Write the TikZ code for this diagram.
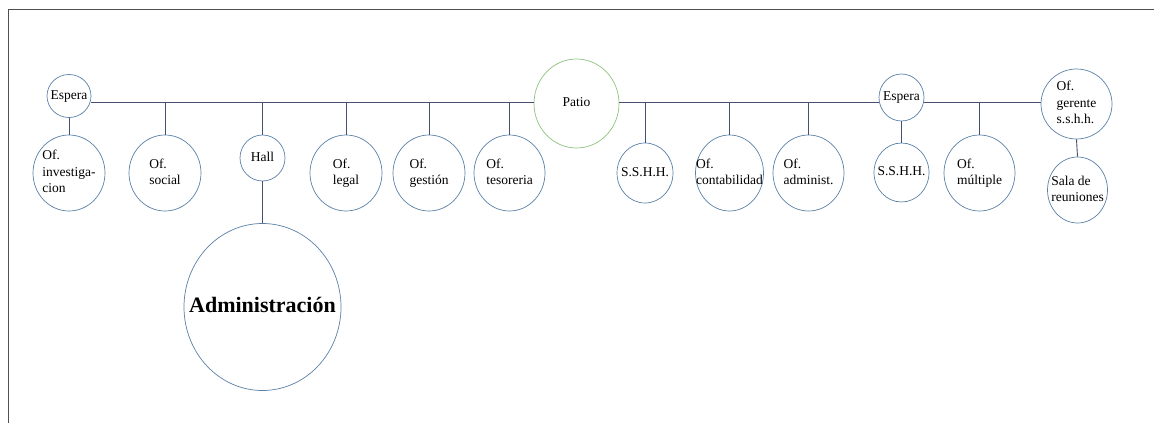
\documentclass[tikz,border=0pt]{standalone}
\usepackage{fontspec}
\setmainfont{Liberation Serif}
\usetikzlibrary{shapes.geometric}
\definecolor{roomblue}{HTML}{5A80A6}
\definecolor{linkgray}{HTML}{46506E}
\definecolor{patiogreen}{HTML}{8DC27C}
\definecolor{framegray}{HTML}{505050}
\newcommand{\roomtext}[1]{\makebox[0pt]{\begin{tabular}{@{}l@{}}#1\end{tabular}}}
\begin{document}
\begin{tikzpicture}[x=1pt,y=-1pt,
  room/.style={ellipse,draw=roomblue,line width=0.7pt,inner sep=0pt,
    font=\fontsize{13.5}{16.5}\selectfont},
  link/.style={draw=linkgray,line width=0.9pt}]
\useasboundingbox (0,0) rectangle (1154,423);
\draw[framegray,line width=1pt] (8,423) -- (8,9) -- (1154,9);

\coordinate (spine) at (0,102);

\node[room,minimum width=44pt,minimum height=43pt] (esp1) at (69,96) {\roomtext{Espera}};
\node[room,minimum width=72pt,minimum height=76pt] (inv) at (69,173) {\roomtext{Of.\\investiga-\\cion}};
\node[room,minimum width=72pt,minimum height=76pt] (soc) at (165,173) {\roomtext{Of.\\social}};
\node[room,minimum width=45pt,minimum height=46pt] (hall) at (262.5,158) {\roomtext{Hall}};
\node[room,minimum width=157pt,minimum height=167pt,font=\fontsize{22}{26}\selectfont\bfseries] (adm) at (262.5,307) {\roomtext{Administración}};
\node[room,minimum width=72pt,minimum height=76pt] (leg) at (346,173) {\roomtext{Of.\\legal}};
\node[room,minimum width=72pt,minimum height=76pt] (ges) at (429,173) {\roomtext{Of.\\gestión}};
\node[room,minimum width=71pt,minimum height=76pt] (tes) at (509.5,173) {\roomtext{Of.\\tesoreria}};

\node[room,draw=patiogreen,minimum width=85pt,minimum height=89pt] (patio) at (576.5,103.5) {\roomtext{Patio}};

\node[room,minimum width=56pt,minimum height=60pt] (ssh1) at (645,173) {\roomtext{S.S.H.H.}};
\node[room,minimum width=68pt,minimum height=76pt] (cont) at (729.5,173) {\roomtext{Of.\\contabilidad}};
\node[room,minimum width=71pt,minimum height=76pt] (adms) at (808.5,173) {\roomtext{Of.\\administ.}};

\node[room,minimum width=45pt,minimum height=47pt] (esp2) at (901.5,97.5) {\roomtext{Espera}};
\node[room,minimum width=55pt,minimum height=59pt] (ssh2) at (901.5,172.5) {\roomtext{S.S.H.H.}};
\node[room,minimum width=71pt,minimum height=76pt] (mult) at (979.5,173) {\roomtext{Of.\\múltiple}};

\node[room,minimum width=71pt,minimum height=68pt] (ger) at (1076.5,104) {\roomtext{Of.\\gerente\\s.s.h.h.}};
\node[room,minimum width=60pt,minimum height=66pt] (sala) at (1077.5,190) {\roomtext{Sala de\\reuniones}};

\draw[link] (esp1.east |- spine) -- (patio.west |- spine);
\draw[link] (patio.east |- spine) -- (esp2.west |- spine);
\draw[link] (esp2.east |- spine) -- (ger.west |- spine);

\draw[link] (esp1.south) -- (inv.north);
\draw[link] (soc.north) -- (soc.north |- spine);
\draw[link] (hall.north) -- (hall.north |- spine);
\draw[link] (hall.south) -- (adm.north);
\draw[link] (leg.north) -- (leg.north |- spine);
\draw[link] (ges.north) -- (ges.north |- spine);
\draw[link] (tes.north) -- (tes.north |- spine);
\draw[link] (ssh1.north) -- (ssh1.north |- spine);
\draw[link] (cont.north) -- (cont.north |- spine);
\draw[link] (adms.north) -- (adms.north |- spine);
\draw[link] (esp2.south) -- (ssh2.north);
\draw[link] (mult.north) -- (mult.north |- spine);
\draw[link] (ger.south) -- (sala.north);
\end{tikzpicture}
\end{document}
